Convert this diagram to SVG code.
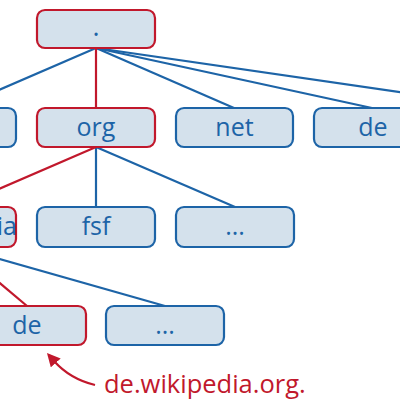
<svg xmlns="http://www.w3.org/2000/svg" width="400" height="400" viewBox="0 0 400 400">
<defs>
<style>
.b{fill:#d4e1ec;stroke:#1d64a7;stroke-width:2.2}
.r{fill:#d4e1ec;stroke:#c1182c;stroke-width:2.2}
.t{font-family:"Open Sans","Noto Sans",sans-serif;font-size:25px;fill:#1d64a7;text-anchor:middle}
.cb{stroke:#1d64a7;stroke-width:2.2;fill:none}
.cr{stroke:#c1182c;stroke-width:2.2;fill:none}
</style>
<marker id="ah" viewBox="0 0 10 10" refX="2" refY="5" markerWidth="6" markerHeight="6" orient="auto" markerUnits="strokeWidth">
<path d="M0,0 L10,5 L0,10 z" fill="#c1182c"/>
</marker>
</defs>
<g id="connectors">
<line class="cb" x1="96" y1="48" x2="-43" y2="108"/>
<line class="cb" x1="96" y1="48" x2="234" y2="108"/>
<line class="cb" x1="96" y1="48" x2="372" y2="108"/>
<line class="cb" x1="96" y1="48" x2="510" y2="108"/>
<line class="cr" x1="96" y1="48" x2="96" y2="108"/>
<line class="cb" x1="96" y1="147" x2="96" y2="207"/>
<line class="cb" x1="96" y1="147" x2="235" y2="207"/>
<line class="cr" x1="96" y1="147" x2="-43" y2="207"/>
<line class="cb" x1="-43" y1="247" x2="165" y2="306"/>
<line class="cr" x1="-43" y1="247" x2="27" y2="306"/>
</g>
<g id="root"><rect class="r" x="37" y="10" width="118" height="38" rx="8"/><text class="t" x="96" y="36" style="font-size:27px">.</text></g>
<g id="com"><rect class="b" x="-102" y="108" width="118" height="39" rx="8"/></g>
<g id="org"><rect class="r" x="37" y="108" width="118" height="39" rx="8"/><text class="t" x="96" y="136">org</text></g>
<g id="net"><rect class="b" x="176" y="108" width="117" height="39" rx="8"/><text class="t" x="234.5" y="136">net</text></g>
<g id="de1"><rect class="b" x="314" y="108" width="118" height="39" rx="8"/><text class="t" x="373" y="136">de</text></g>
<g id="wikipedia"><rect class="r" x="-102" y="207" width="118" height="40" rx="8"/><text class="t" x="-38" y="235">wikipedia</text></g>
<g id="fsf"><rect class="b" x="37" y="207" width="118" height="40" rx="8"/><text class="t" x="96" y="235">fsf</text></g>
<g id="dots1"><rect class="b" x="176" y="207" width="118" height="40" rx="8"/><text class="t" x="235" y="235">...</text></g>
<g id="de2"><rect class="r" x="-32" y="306" width="118" height="39" rx="8"/><text class="t" x="27" y="334">de</text></g>
<g id="dots2"><rect class="b" x="106" y="306" width="118" height="39" rx="8"/><text class="t" x="165" y="334">...</text></g>
<g id="label">
<path class="cr" d="M95,385 Q70,379 54,361" marker-end="url(#ah)"/>
<text x="104" y="393" style="font-family:'Open Sans','Noto Sans',sans-serif;font-size:25.5px;fill:#c1182c">de.wikipedia.org.</text>
</g>
</svg>
